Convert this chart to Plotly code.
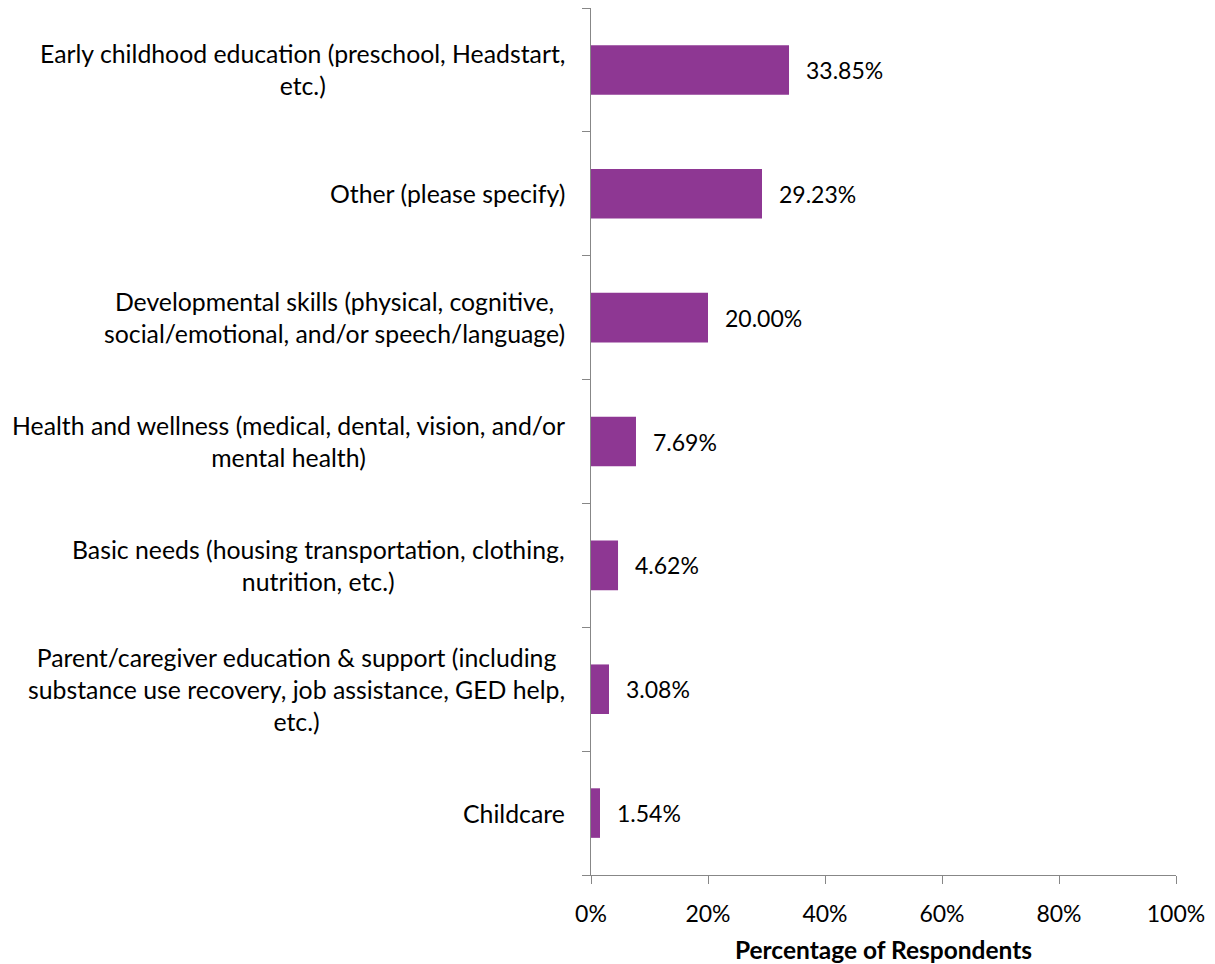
import plotly.graph_objects as go

categories = [
    "Early childhood education (preschool, Headstart,<br>etc.)",
    "Other (please specify)",
    "Developmental skills (physical, cognitive,<br>social/emotional, and/or speech/language)",
    "Health and wellness (medical, dental, vision, and/or<br>mental health)",
    "Basic needs (housing transportation, clothing,<br>nutrition, etc.)",
    "Parent/caregiver education & support (including<br>substance use recovery, job assistance, GED help,<br>etc.)",
    "Childcare",
]
values = [33.85, 29.23, 20.00, 7.69, 4.62, 3.08, 1.54]
x_ticks = [0, 20, 40, 60, 80, 100]
x_tick_labels = ["0%", "20%", "40%", "60%", "80%", "100%"]

FONT = "Lato, Carlito, Calibri, sans-serif"
BAR = "#8E3793"
AXIS = "#878787"

fig = go.Figure()
fig.add_trace(go.Bar(
    y=categories, x=values, orientation="h",
    marker=dict(color=BAR, line=dict(width=0)),
    width=0.4, hoverinfo="skip",
))

annotations = []
for c, v in zip(categories, values):
    annotations.append(dict(
        x=v, y=c, xref="x", yref="y", text=f"{v:.2f}%", showarrow=False,
        xanchor="left", xshift=15, font=dict(family=FONT, size=23, color="#000000"),
    ))
    annotations.append(dict(
        x=0, y=c, xref="paper", yref="y", text=c, showarrow=False,
        xanchor="right", align="center", xshift=-24,
        font=dict(family=FONT, size=24.8, color="#000000"),
    ))

fig.update_layout(
    width=1207, height=956,
    margin=dict(l=583, r=39, t=0, b=89),
    paper_bgcolor="white", plot_bgcolor="white",
    showlegend=False,
    font=dict(family=FONT, size=23, color="#000000"),
    annotations=annotations,
    xaxis=dict(
        range=[0, 100], tickmode="array", tickvals=x_ticks, ticktext=x_tick_labels,
        showgrid=False, zeroline=False, showline=True, linecolor=AXIS, linewidth=1,
        ticks="outside", ticklen=8, tickcolor=AXIS, ticklabelstandoff=10,
        tickfont=dict(family=FONT, size=23, color="#000000"),
        title=dict(text="<b>Percentage of Respondents</b>", font=dict(family=FONT, size=24.5, color="#000000"), standoff=20),
    ),
    yaxis=dict(
        categoryorder="array", categoryarray=categories[::-1],
        showticklabels=False, showgrid=False, zeroline=False,
        showline=True, linecolor=AXIS, linewidth=1,
        ticks="outside", ticklen=8, tickcolor=AXIS, tickson="boundaries",
    ),
)

fig.write_html("out.html")
